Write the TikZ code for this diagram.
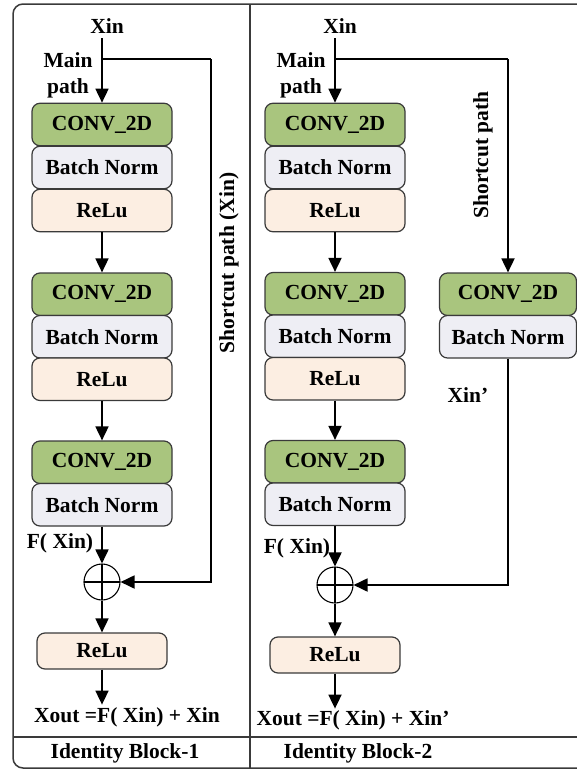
\documentclass[tikz,border=0pt]{standalone}
\usepackage{fontspec}
\setmainfont{Liberation Serif}
\usetikzlibrary{arrows.meta}
\definecolor{convfill}{HTML}{A9C57E}
\definecolor{bnfill}{HTML}{EEEEF4}
\definecolor{relufill}{HTML}{FCEEE2}
\definecolor{edge}{HTML}{3A3A3A}
\tikzset{
  lbl/.style={font=\fontsize{21.5}{26}\selectfont\bfseries, inner sep=0pt},
  layer/.style={draw=edge, line width=1.2pt, rounded corners=8pt, inner sep=0pt,
    minimum width=140pt, minimum height=42.5pt, font=\fontsize{21.5}{26}\selectfont\bfseries},
  conv/.style={layer, fill=convfill},
  bn/.style={layer, fill=bnfill},
  relu/.style={layer, fill=relufill},
  arr/.style={line width=1.8pt, -{Triangle[length=14pt,width=13pt]}},
  wire/.style={line width=1.8pt},
  adder/.style={circle, draw=black, line width=1.1pt, minimum size=36pt, inner sep=0pt,
    path picture={\draw[line width=1.1pt] (path picture bounding box.north) -- (path picture bounding box.south)
      (path picture bounding box.west) -- (path picture bounding box.east);}},
}
\begin{document}
\begin{tikzpicture}[x=1pt,y=-1pt]
\useasboundingbox (0,0) rectangle (577,771);
% frame and dividers
\draw[edge, line width=1.5pt, rounded corners=10pt] (580,4) -- (13,4) -- (13,768) -- (580,768);
\draw[edge, line width=1.5pt] (250,4) -- (250,768);
\draw[edge, line width=1.5pt] (13,737) -- (580,737);

% ---------------- Identity block 1 ----------------
\node[lbl, anchor=south] (xin1) at (107,34) {Xin};
\node[lbl, align=center] (mp1) at (68,75) {Main\\path};
\node[conv] (c1a) at (102,124.5) {CONV\_2D};
\node[bn]   (b1a) at (102,167.5) {Batch Norm};
\node[relu] (r1a) at (102,210.5) {ReLu};
\node[conv] (c1b) at (102,294.25) {CONV\_2D};
\node[bn]   (b1b) at (102,336.75) {Batch Norm};
\node[relu] (r1b) at (102,379.25) {ReLu};
\node[conv] (c1c) at (102,462.25) {CONV\_2D};
\node[bn]   (b1c) at (102,504.75) {Batch Norm};
\node[lbl] (f1) at (60,543) {F( Xin)};
\node[adder] (s1) at (102,582) {};
\node[relu, minimum width=130pt, minimum height=36pt] (o1) at (102,651) {ReLu};
\node[lbl] (x1) at (127,717) {Xout =F( Xin) + Xin};
\node[lbl, rotate=90] (sc1) at (229,263) {Shortcut path (Xin)};
\node[lbl] (id1) at (125,753) {Identity Block-1};
\coordinate (top1) at (c1a.north |- 0,38);
\coordinate (br1) at (c1a.north |- 0,59);
\coordinate (k1) at (211,59);

\draw[arr] (top1) -- (c1a);
\draw[arr] (r1a) -- (c1b);
\draw[arr] (r1b) -- (c1c);
\draw[arr] (b1c) -- (s1);
\draw[arr] (s1) -- (o1);
\draw[arr] (o1.south) -- ++(0,35);
\draw[wire] (br1) -- (k1);
\draw[arr] (k1) |- (s1.east);

% ---------------- Identity block 2 ----------------
\node[lbl, anchor=south] (xin2) at (340,34) {Xin};
\node[lbl, align=center] (mp2) at (301,75) {Main\\path};
\node[conv] (c2a) at (335,124.5) {CONV\_2D};
\node[bn]   (b2a) at (335,167.5) {Batch Norm};
\node[relu] (r2a) at (335,210.5) {ReLu};
\node[conv] (c2b) at (335,293.75) {CONV\_2D};
\node[bn]   (b2b) at (335,336.25) {Batch Norm};
\node[relu] (r2b) at (335,378.75) {ReLu};
\node[conv] (c2c) at (335,461.75) {CONV\_2D};
\node[bn]   (b2c) at (335,504.25) {Batch Norm};
\node[lbl] (f2) at (297,548) {F( Xin)};
\node[adder] (s2) at (335,585) {};
\node[relu, minimum width=130pt, minimum height=36pt] (o2) at (335,655) {ReLu};
\node[lbl] (x2) at (353,720) {Xout =F( Xin) + Xin'};
\node[lbl] (id2) at (358,753) {Identity Block-2};
% shortcut projection
\node[conv, minimum width=137pt] (c2s) at (508,294.25) {CONV\_2D};
\node[bn, minimum width=137pt]   (b2s) at (508,336.75) {Batch Norm};
\node[lbl, rotate=90] (sc2) at (483,155) {Shortcut path};
\node[lbl] (xp) at (468,395) {Xin'};
\coordinate (top2) at (c2a.north |- 0,38);
\coordinate (br2) at (c2a.north |- 0,59);
\coordinate (k2) at (c2s.north |- 0,59);

\draw[arr] (top2) -- (c2a);
\draw[arr] (r2a) -- (c2b);
\draw[arr] (r2b) -- (c2c);
\draw[arr] (b2c) -- (s2);
\draw[arr] (s2) -- (o2);
\draw[arr] (o2.south) -- ++(0,35);
\draw[wire] (br2) -- (k2);
\draw[arr] (k2) -- (c2s);
\draw[arr] (b2s) |- (s2.east);
\end{tikzpicture}
\end{document}
